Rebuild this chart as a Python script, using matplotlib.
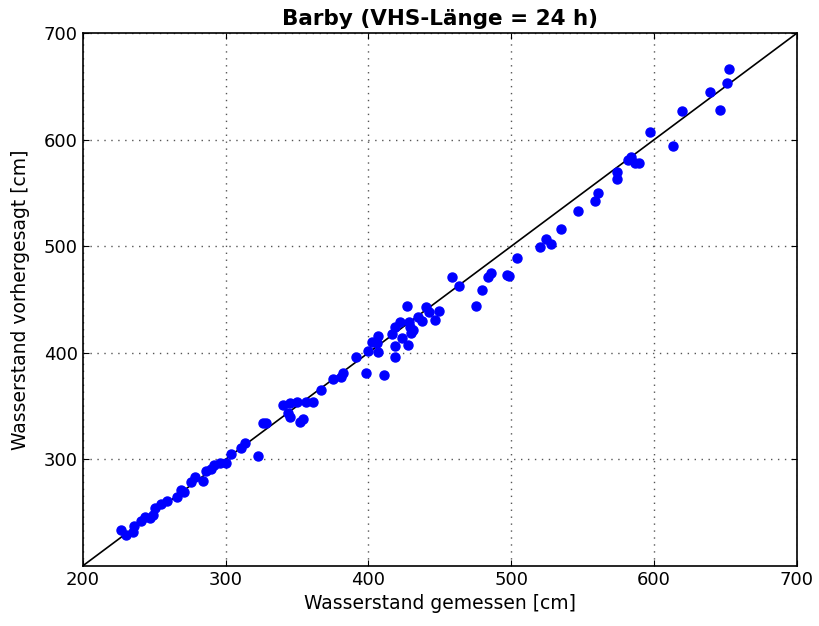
import matplotlib
matplotlib.use("Agg")
import matplotlib.pyplot as plt

# Wasserstand Barby: gemessen vs. vorhergesagt (cm)
gemessen = [227.1, 230.6, 235.2, 235.9, 241.1, 243.4, 246.9, 249.2, 250.9, 255.1,
            259.3, 266.3, 268.6, 270.9, 276.1, 278.4, 284.2, 286.1, 290.1, 291.9,
            295.9, 300.6, 304.1, 311.1, 313.4, 322.5, 326.0, 328.2, 340.0, 345.0,
            349.9, 356.2, 361.1, 343.6, 345.0, 352.0, 354.0, 366.7, 375.0, 380.7,
            382.0, 391.2, 398.2, 410.8, 399.6, 406.6, 402.2, 406.1, 406.8, 416.2,
            418.5, 422.0, 423.2, 418.5, 427.8, 428.5, 429.0, 431.3, 429.5, 434.4,
            437.2, 440.2, 442.5, 446.5, 449.3, 427.1, 418.5, 463.5, 458.2, 479.2,
            475.2, 483.6, 485.7, 496.9, 498.3, 503.9, 520.0, 524.2, 527.7, 534.7,
            546.6, 558.5, 560.6, 574.0, 574.0, 581.7, 583.8, 586.6, 589.4, 597.0,
            613.2, 619.5, 646.0, 639.0, 651.0, 652.4]
vorhergesagt = [233.8, 229.1, 232.2, 237.5, 242.5, 245.7, 244.8, 247.8, 254.1, 258.2,
                261.3, 264.4, 271.3, 269.7, 279.1, 283.8, 280.0, 289.4, 290.7, 294.7,
                296.3, 296.9, 305.0, 310.4, 315.4, 303.2, 334.1, 334.1, 351.0, 352.9,
                353.8, 353.8, 353.8, 343.5, 339.8, 335.1, 337.9, 365.1, 375.4, 377.3,
                381.0, 396.1, 381.0, 379.2, 401.7, 400.8, 410.4, 408.9, 415.8, 417.4,
                424.5, 429.2, 413.6, 406.4, 407.3, 429.2, 424.5, 421.4, 418.9, 433.9,
                430.1, 443.2, 438.6, 430.8, 439.2, 443.9, 396.4, 462.7, 471.0, 458.9,
                443.9, 471.0, 475.0, 473.0, 472.0, 488.9, 499.3, 506.8, 502.1, 516.1,
                533.0, 542.4, 549.9, 569.6, 563.0, 580.9, 583.7, 578.0, 578.0, 607.1,
                594.0, 626.8, 627.8, 644.7, 653.1, 666.2]

x_ticks = [200, 300, 400, 500, 600, 700]
y_ticks = [300, 400, 500, 600, 700]

fig = plt.figure(figsize=(8.19, 6.26), dpi=100)
ax = fig.add_axes([0.101, 0.096, 0.872, 0.851])

ax.plot([200, 700], [200, 700], color="black", lw=1.2, zorder=2)
ax.plot(gemessen, vorhergesagt, "o", color="blue", mec="blue", ms=6.5, zorder=3)

ax.set_xlim(200, 700)
ax.set_ylim(200, 700)
ax.set_xticks(x_ticks)
ax.set_yticks(y_ticks)
ax.grid(True, color="#555555", linestyle=(0, (1, 4)), linewidth=1.0)
ax.tick_params(direction="in", top=True, right=True, labelsize=13, length=4)
for s in ax.spines.values():
    s.set_linewidth(1.2)

ax.set_xlabel("Wasserstand gemessen [cm]", fontsize=13.5)
ax.set_ylabel("Wasserstand vorhergesagt [cm]", fontsize=13.5, labelpad=10)
ax.set_title("Barby (VHS-Länge = 24 h)", fontsize=15.5, fontweight="bold")

fig.savefig("out.png", dpi=100)
